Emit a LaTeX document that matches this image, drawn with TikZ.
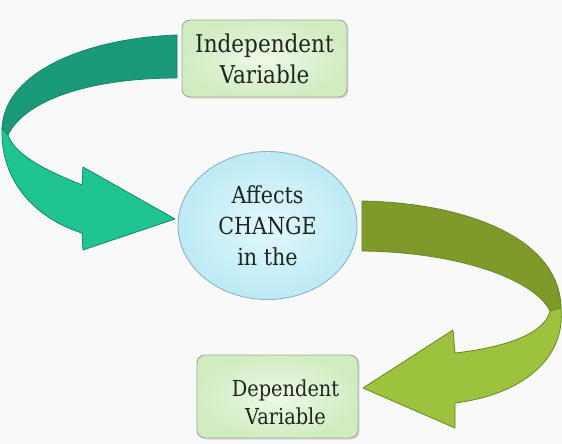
\documentclass[tikz,border=0pt]{standalone}
\usepackage{fontspec}
\setmainfont{DejaVu Serif}[FakeStretch=0.88]
\usetikzlibrary{shapes.geometric,shadows}
\definecolor{bgc}{HTML}{F8F9F8}
\definecolor{tealdark}{HTML}{1B9A79}
\definecolor{teallight}{HTML}{20C493}
\definecolor{tealline}{HTML}{15866A}
\definecolor{olivedark}{HTML}{7E9A2B}
\definecolor{olivelight}{HTML}{9DC33E}
\definecolor{oliveline}{HTML}{6A8624}
\definecolor{boxin}{HTML}{EEF9E8}
\definecolor{boxout}{HTML}{D2ECC2}
\definecolor{boxline}{HTML}{9EA89A}
\definecolor{circin}{HTML}{E2F8FC}
\definecolor{circout}{HTML}{BCEAF5}
\definecolor{circline}{HTML}{8FB3C0}
\definecolor{txt}{HTML}{1F251F}
\tikzset{
  varbox/.style={draw=boxline, line width=0.9pt, rounded corners=8pt,
    inner color=boxin, outer color=boxout, align=center, text=txt,
    drop shadow={opacity=0.25, shadow xshift=1.5pt, shadow yshift=-1.5pt}},
  changecirc/.style={ellipse, draw=circline, line width=0.9pt,
    inner color=circin, outer color=circout, align=center, text=txt, inner sep=0pt},
  boxtext/.style={align=center, text=txt, inner sep=0pt},
  tealband/.style={draw=tealline, line width=0.8pt, line join=round},
  oliveband/.style={draw=oliveline, line width=0.8pt, line join=round}
}
\begin{document}
\begin{tikzpicture}[x=1pt,y=-1pt]
\fill[bgc] (0,0) rectangle (562,444);
\useasboundingbox (0,0) rectangle (562,444);

% teal ribbon arrow (upper dark part, lower light part with head)
\filldraw[tealband, fill=tealdark] (177,35) .. controls (90,38) and (5,70) .. (2,128)
  -- (8,135) .. controls (25,100) and (90,78) .. (177,78) -- cycle;
\filldraw[tealband, fill=teallight] (2,128) .. controls (0,185) and (40,220) .. (82,233)
  -- (83,250) -- (175,219) -- (83,167) -- (82,185)
  .. controls (45,170) and (15,155) .. (8,135) -- cycle;

% olive ribbon arrow
\filldraw[oliveband, fill=olivedark] (362,201) .. controls (470,203) and (560,240) .. (561,308)
  -- (550,311) .. controls (535,280) and (460,252) .. (362,251) -- cycle;
\filldraw[oliveband, fill=olivelight] (561,308) .. controls (566,360) and (520,395) .. (455,403)
  -- (455,428) -- (363,388) -- (453,330) -- (455,353)
  .. controls (500,348) and (545,335) .. (550,311) -- cycle;

% nodes
\node[varbox, minimum width=165pt, minimum height=77pt,
  font=\fontsize{24.5}{31}\selectfont] (indep) at (264.5,58.5) {Independent\\Variable};
\node[changecirc, minimum width=179pt, minimum height=148pt,
  font=\fontsize{23.5}{31}\selectfont] (change) at (267.5,225.5) {Affects\\CHANGE\\in the};
\node[varbox, minimum width=161pt, minimum height=83pt] (dep) at (277.5,396.5) {};
\node[boxtext, font=\fontsize{22}{28}\selectfont] (deptext)
  at ([xshift=8pt,yshift=-6pt]dep.center) {Dependent\\Variable};
\end{tikzpicture}
\end{document}
